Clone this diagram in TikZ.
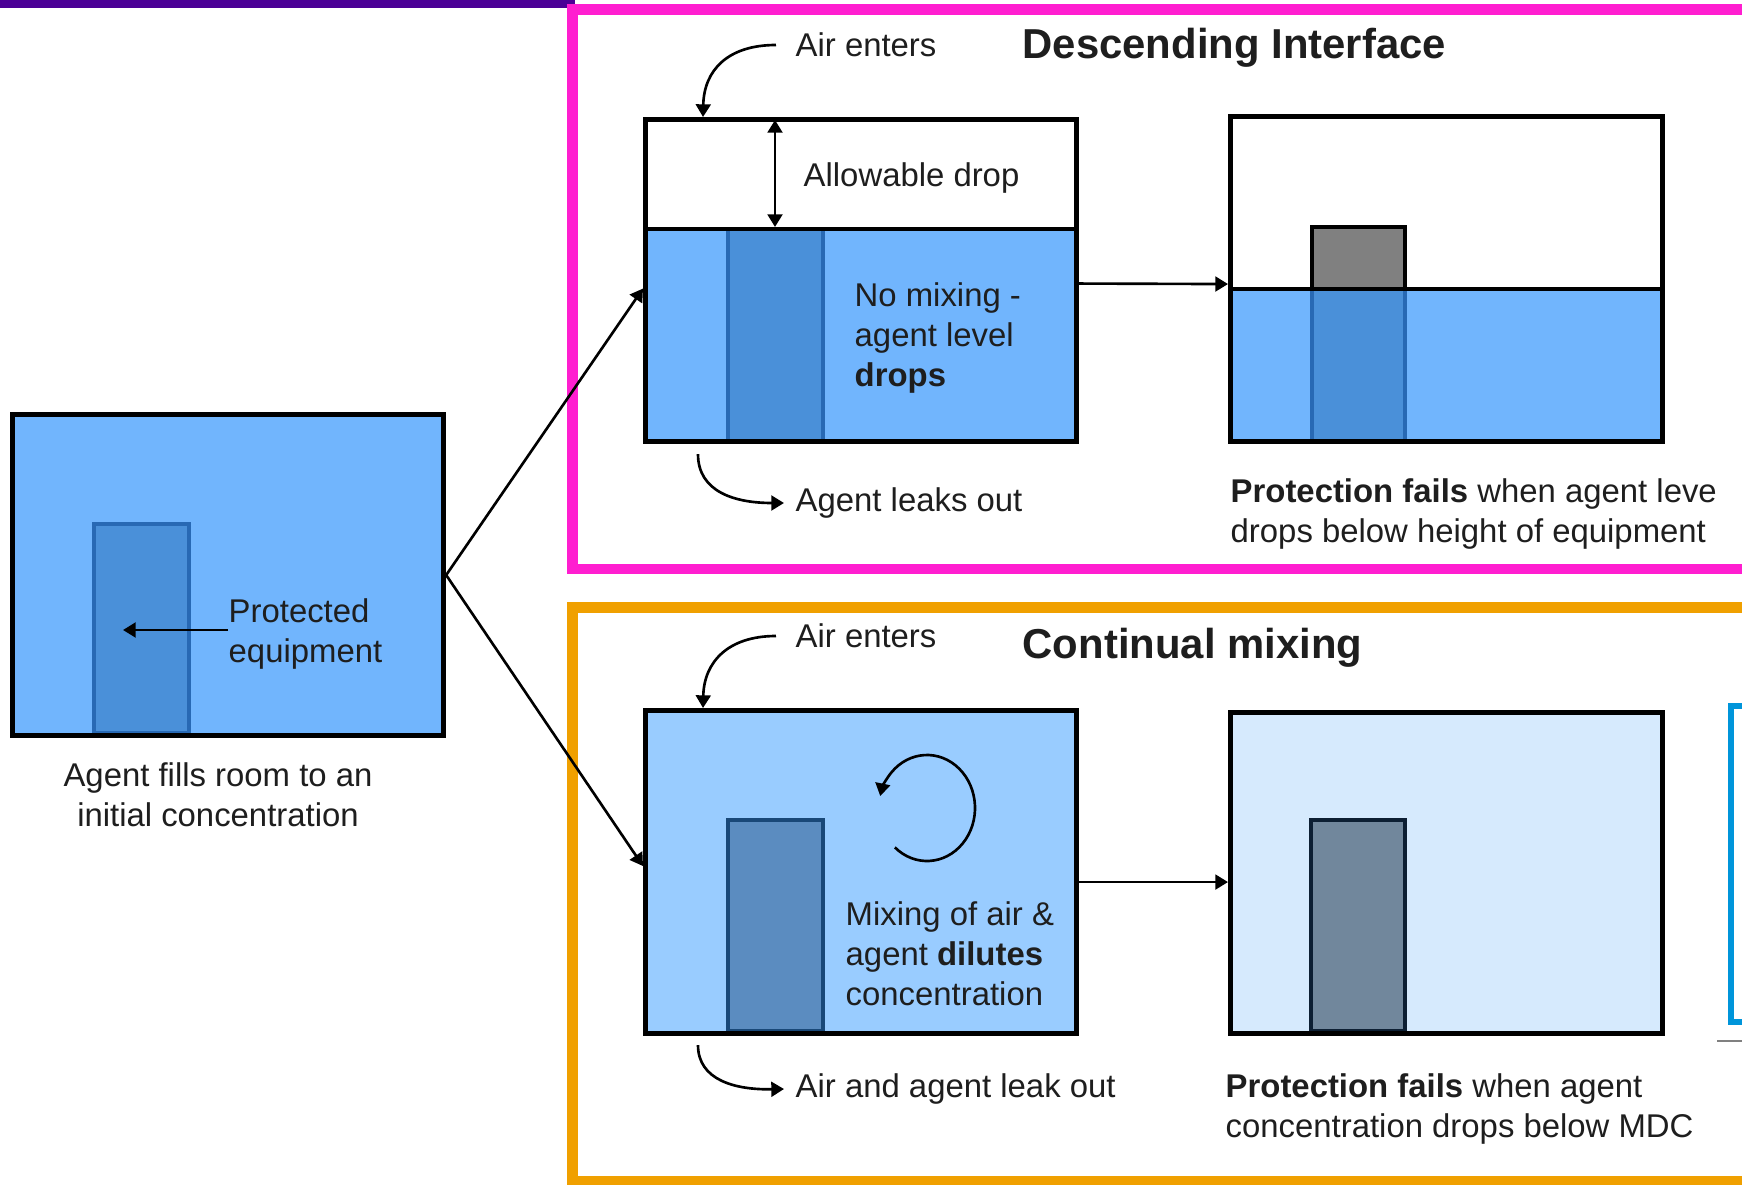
\documentclass[tikz,border=0pt]{standalone}
\usepackage{fontspec}
\setmainfont{Liberation Sans}
\usetikzlibrary{arrows.meta,calc}
\definecolor{purplebar}{RGB}{75,0,150}
\definecolor{pinkframe}{RGB}{255,30,208}
\definecolor{orangeframe}{RGB}{240,160,0}
\definecolor{agentblue}{RGB}{113,181,253}
\definecolor{equipblue}{RGB}{74,144,217}
\definecolor{equipedge}{RGB}{40,105,180}
\definecolor{mixblue}{RGB}{153,204,255}
\definecolor{mixequip}{RGB}{91,140,192}
\definecolor{mixequipedge}{RGB}{25,72,120}
\definecolor{paleblue}{RGB}{214,234,253}
\definecolor{slateequip}{RGB}{113,135,156}
\definecolor{slateedge}{RGB}{13,31,51}
\definecolor{grayblock}{RGB}{128,128,128}
\definecolor{cyanedge}{RGB}{0,149,218}
\definecolor{txt}{RGB}{30,30,30}
\begin{document}
\begin{tikzpicture}[x=0.01cm,y=-0.01cm,
  font=\fontsize{9.35}{11.4}\selectfont, text=txt,
  room/.style={draw=black, line width=1.4pt, inner sep=0pt, anchor=north west},
  lbl/.style={inner sep=0pt, align=left, anchor=west},
  heading/.style={inner sep=0pt, anchor=west, font=\fontsize{11.9}{14}\selectfont\bfseries},
  conn/.style={line width=0.75pt, -{Triangle[length=3.6pt,width=4.2pt]}},
  frameline/.style={line width=3.1pt},
  equipline/.style={line width=0.9pt}]
\useasboundingbox (0,0) rectangle (1742,1185);
\fill[white] (0,0) rectangle (1742,1185);
% top bar and frames
\fill[purplebar] (0,0) rectangle (575,8);
\draw[pinkframe, frameline] (1760,9.5) -- (572.5,9.5) -- (572.5,569) -- (1760,569);
\draw[orangeframe, frameline] (1760,607.5) -- (572.5,607.5) -- (572.5,1181) -- (1760,1181);

% ---------- initial room ----------
\fill[agentblue] (10,412) rectangle (441,733);
\filldraw[fill=equipblue, draw=equipedge, equipline] (94,524) rectangle (189,733);
\node[room, minimum width=4.31cm, minimum height=3.21cm] (init) at (10,412) {};
\node[lbl] (prot) at (228,634) {Protected\\equipment};
\coordinate (equiptarget) at (123,630);
\draw[conn] (prot.west |- equiptarget) -- (equiptarget);
\node[inner sep=0pt, align=center] (initcap) at (218,795) {Agent fills room to an\\initial concentration};

% ---------- descending interface ----------
\fill[agentblue] (643,229) rectangle (1074,439);
\fill[equipblue] (728,229) rectangle (823,439);
\draw[equipedge, equipline] (728,229) -- (728,439) (823,229) -- (823,439);
\draw[line width=1.4pt] (643,229) -- (1074,229);
\node[room, minimum width=4.31cm, minimum height=3.22cm] (desc) at (643,117) {};
\coordinate (droptop) at (775,120);
\coordinate (dropbot) at (775,227);
\draw[line width=0.75pt, {Triangle[length=3.6pt,width=4.2pt]}-{Triangle[length=3.6pt,width=4.2pt]}] (droptop) -- (dropbot);
\node[lbl] (allow) at (803,178) {Allowable drop};
\node[lbl] (nomix) at (854,338) {No mixing -\\agent level\\\textbf{drops}};

\node[heading] (titledesc) at (1022,48) {Descending Interface};
\node[lbl] (airtop) at (795,45) {Air enters};
\draw[conn] ([xshift=-0.19cm]airtop.west) .. controls (728,45) and (704,70) .. ($(desc.north west)+(60,0)$);
\node[lbl] (leaktop) at (795,503) {Agent leaks out};
\draw[conn] ($(desc.south west)+(55,10)$) .. controls (698,492) and (735,503) .. ([xshift=-0.11cm]leaktop.west);

% result of descending interface
\fill[agentblue] (1228,289) rectangle (1660,439);
\fill[equipblue] (1312,289) rectangle (1405,439);
\draw[equipedge, equipline] (1312,289) -- (1312,439) (1405,289) -- (1405,439);
\filldraw[fill=grayblock, draw=black, line width=1.4pt] (1312,289) rectangle (1405,227);
\draw[line width=1.4pt] (1228,289) -- (1660,289);
\node[room, minimum width=4.32cm, minimum height=3.25cm] (dres) at (1228,114) {};
\node[lbl] (failtop) at (1230,514) {\textbf{Protection fails} when agent leve\\drops below height of equipment};

% ---------- continual mixing ----------
\fill[mixblue] (643,708) rectangle (1074,1031);
\filldraw[fill=mixequip, draw=mixequipedge, equipline] (728,820) rectangle (823,1031);
\node[room, minimum width=4.31cm, minimum height=3.23cm] (mix) at (643,708) {};
\coordinate (swirl) at (927,808);
\draw[conn] ($(swirl)+(132:48 and 53)$) arc[start angle=132, end angle=-167, x radius=48, y radius=53];
\node[lbl] (mixtext) at (845,954) {Mixing of air \&\\agent \textbf{dilutes}\\concentration};

\node[heading] (titlemix) at (1022,648) {Continual mixing};
\node[lbl] (airbot) at (795,636) {Air enters};
\draw[conn] ([xshift=-0.19cm]airbot.west) .. controls (728,636) and (704,662) .. ($(mix.north west)+(60,0)$);
\node[lbl] (leakbot) at (795,1089) {Air and agent leak out};
\draw[conn] ($(mix.south west)+(55,9)$) .. controls (698,1080) and (735,1090) .. ([xshift=-0.11cm]leakbot.west);

% result of mixing
\fill[paleblue] (1228,710) rectangle (1660,1031);
\filldraw[fill=slateequip, draw=slateedge, line width=1.2pt] (1311,820) rectangle (1405,1031);
\node[room, minimum width=4.32cm, minimum height=3.21cm] (mres) at (1228,710) {};
\node[lbl] (failbot) at (1225,1109) {\textbf{Protection fails} when agent\\concentration drops below MDC};

% cut-off shape at right edge
\coordinate (edgea) at (1760,706);
\coordinate (edgeb) at (1760,1022);
\draw[cyanedge, line width=1.6pt] (edgea) -- (1731,706) -- (1731,1022) -- (edgeb);
\coordinate (rulea) at (1717,1041);
\coordinate (ruleb) at (1742,1041);
\draw[gray, line width=0.5pt] (rulea) -- (ruleb);

% connectors between rooms
\draw[conn] (init.east) -- ($(desc.west)+(0,8)$);
\draw[conn] (init.east) -- ($(mix.west)+(0,-6)$);
\draw[conn] ($(desc.east)+(0,3)$) -- ($(dres.west)+(0,5)$);
\draw[conn] ($(mix.east)+(0,10)$) -- ($(mres.west)+(0,9)$);
\end{tikzpicture}
\end{document}
